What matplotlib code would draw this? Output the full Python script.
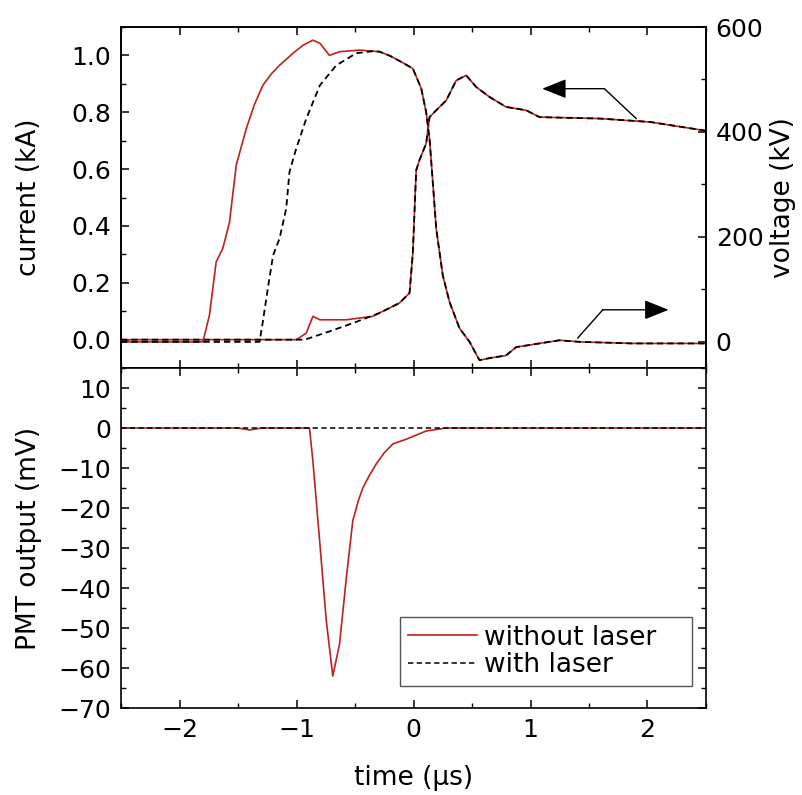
import matplotlib.pyplot as plt
from matplotlib.ticker import MultipleLocator

plt.rcParams['font.family'] = ['DejaVu Sans']
plt.rcParams['font.size'] = 18

# voltage (kV), without laser
t_volt = [-2.5, -1.8, -1.744, -1.687, -1.63, -1.573, -1.515, -1.43, -1.36, -1.288, -1.21, -1.145,
          -1.03, -0.946, -0.86, -0.80, -0.718, -0.632, -0.46, -0.29, -0.2, -0.1,
          -0.006, 0.066, 0.108, 0.137, 0.165, 0.194, 0.25, 0.308, 0.393, 0.479,
          0.564, 0.65, 0.79, 0.878, 1.077, 1.248, 1.42, 1.87, 2.5]
volt = [0, 0, 51, 152, 178, 228, 337, 406, 452, 489, 512, 527,
        550, 565, 575, 569, 546, 553, 556, 553, 545, 533,
        521, 483, 438, 387, 304, 216, 127, 76, 26, 0,
        -35, -31, -26, -10, -3, 3, 0, -3, -3]

# voltage (kV), with laser
t_volt_l = [-2.5, -1.316, -1.288, -1.245, -1.20, -1.145, -1.088, -1.06, -1.003, -0.917,
            -0.80, -0.66, -0.49, -0.348, -0.29, -0.2, -0.1,
            -0.006, 0.066, 0.108, 0.137, 0.165, 0.194, 0.25, 0.308, 0.393, 0.479,
            0.564, 0.65, 0.79, 0.878, 1.077, 1.248, 1.42, 1.87, 2.5]
volt_l = [0, 0, 38, 102, 165, 197, 254, 324, 368, 425,
          489, 527, 550, 554, 553, 545, 533,
          521, 483, 438, 387, 304, 216, 127, 76, 26, 0,
          -35, -31, -26, -10, -3, 3, 0, -3, -3]

# current (kA), without laser
t_cur = [-2.5, -1.0, -0.917, -0.86, -0.80, -0.575, -0.348, -0.29, -0.12, -0.034,
         -0.006, 0.023, 0.051, 0.108, 0.137, 0.194, 0.28, 0.365, 0.45, 0.536,
         0.65, 0.79, 0.963, 1.077, 1.59, 2.02, 2.47, 2.5]
cur = [0, 0, 0.023, 0.082, 0.07, 0.07, 0.082, 0.094, 0.129, 0.164,
       0.304, 0.596, 0.632, 0.69, 0.783, 0.807, 0.842, 0.912, 0.93, 0.889,
       0.854, 0.819, 0.807, 0.783, 0.778, 0.766, 0.737, 0.735]

# current (kA), with laser
t_cur_l = [-2.5, -0.93, -0.718, -0.519, -0.29, -0.12, -0.034,
           -0.006, 0.023, 0.051, 0.108, 0.137, 0.194, 0.28, 0.365, 0.45, 0.536,
           0.65, 0.79, 0.963, 1.077, 1.59, 2.02, 2.47, 2.5]
cur_l = [0, 0, 0.029, 0.058, 0.094, 0.129, 0.164,
         0.304, 0.596, 0.632, 0.69, 0.783, 0.807, 0.842, 0.912, 0.93, 0.889,
         0.854, 0.819, 0.807, 0.783, 0.778, 0.766, 0.737, 0.735]

# PMT output (mV)
t_pmt = [-2.5, -1.5, -1.4, -1.3, -0.889, -0.86, -0.80, -0.746, -0.69, -0.632,
         -0.575, -0.519, -0.47, -0.433, -0.38, -0.319, -0.25, -0.177, -0.062, 0.108, 0.28, 2.5]
pmt = [0, 0, -0.5, 0, 0, -8.25, -29, -48, -62, -54,
       -37.7, -23.2, -18, -15, -12, -9, -6.2, -4, -2.8, -0.75, 0, 0]
t_pmt_l = [-2.5, 2.5]
pmt_l = [0, 0]

red = '#c01f1f'
dash = (3.5, 2.2)

fig = plt.figure(figsize=(8.03, 7.95), dpi=100)
ax1 = fig.add_axes([0.1507, 0.537, 0.7285, 0.429])
ax2 = ax1.twinx()
ax3 = fig.add_axes([0.1507, 0.1094, 0.7285, 0.4277], sharex=ax1)

ax1.plot(t_cur, cur, color=red, lw=1.2)
ax1.plot(t_cur_l, cur_l, color='black', lw=1.3, ls=(0, dash))
ax2.plot(t_volt, volt, color=red, lw=1.2)
ax2.plot(t_volt_l, volt_l, color='black', lw=1.3, ls=(0, dash))

# arrows showing which axis each curve belongs to
head = '-|>,head_length=0.75,head_width=0.3'
ax1.plot([1.632, 1.903], [0.883, 0.778], color='black', lw=1)
ax1.annotate('', xy=(1.10, 0.883), xytext=(1.632, 0.883),
             arrowprops=dict(arrowstyle=head, color='black', lw=1,
                             mutation_scale=20, shrinkA=0, shrinkB=0))
ax1.plot([1.404, 1.618], [0.006, 0.105], color='black', lw=1)
ax1.annotate('', xy=(2.18, 0.105), xytext=(1.618, 0.105),
             arrowprops=dict(arrowstyle=head, color='black', lw=1,
                             mutation_scale=20, shrinkA=0, shrinkB=0))

ax3.plot(t_pmt, pmt, color=red, lw=1.2, label='without laser')
ax3.plot(t_pmt_l, pmt_l, color='black', lw=1.1, ls=(0, dash), label='with laser')

ax1.set_xlim(-2.5, 2.5)
ax1.set_ylim(-0.1, 1.1)
ax2.set_ylim(-50, 600)
ax3.set_ylim(-70, 15)

ax1.yaxis.set_major_locator(MultipleLocator(0.2))
ax1.yaxis.set_minor_locator(MultipleLocator(0.1))
ax1.yaxis.set_major_formatter(plt.FormatStrFormatter('%.1f'))
ax2.yaxis.set_major_locator(MultipleLocator(200))
ax2.yaxis.set_minor_locator(MultipleLocator(100))
ax3.yaxis.set_major_locator(MultipleLocator(10))
ax3.yaxis.set_minor_locator(MultipleLocator(5))
ax3.xaxis.set_major_locator(MultipleLocator(1))
ax3.xaxis.set_minor_locator(MultipleLocator(0.5))

for ax in (ax1, ax2, ax3):
    ax.tick_params(which='major', direction='in', length=6, width=1.1, pad=7)
    ax.tick_params(which='minor', direction='in', length=3.5, width=1.0)
    for s in ax.spines.values():
        s.set_linewidth(1.2)

ax1.tick_params(which='both', top=True, labelbottom=False, right=False)
ax3.tick_params(which='both', top=True, right=True)

ax1.set_ylabel('current (kA)', fontsize=19)
ax1.yaxis.set_label_coords(-0.135, 0.5)
ax2.set_ylabel('voltage (kV)', fontsize=19)
ax2.yaxis.set_label_coords(1.11, 0.5)
ax3.set_ylabel('PMT output (mV)', fontsize=19)
ax3.yaxis.set_label_coords(-0.135, 0.5)
ax3.set_xlabel('time (μs)', fontsize=19)
ax3.xaxis.set_label_coords(0.5, -0.168)

leg = ax3.legend(loc='lower left', bbox_to_anchor=(0.477, 0.065, 0.499, 0.2),
                 mode='expand', borderaxespad=0,
                 fancybox=False, framealpha=1, edgecolor='#555555',
                 handlelength=2.6, handletextpad=0.3, labelspacing=0.05,
                 borderpad=0.3, fontsize=19)
leg.get_frame().set_linewidth(1.0)

fig.savefig('out.png', dpi=100)
